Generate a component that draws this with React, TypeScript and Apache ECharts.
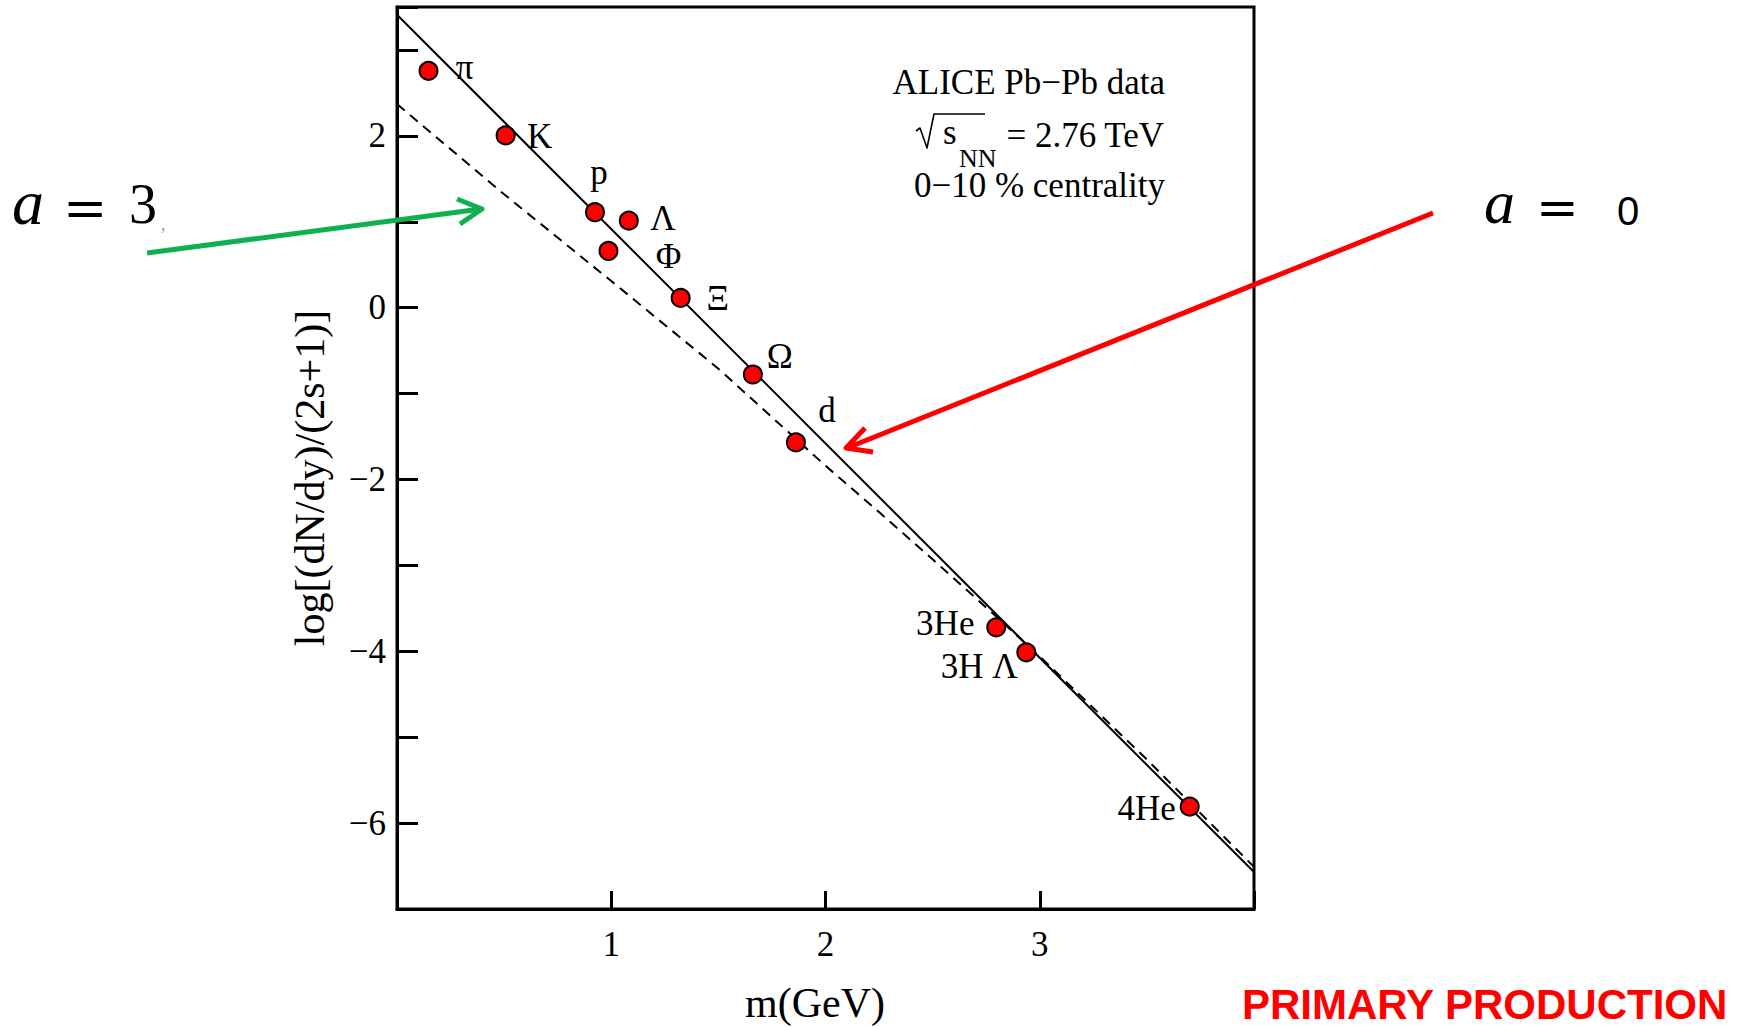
import { useEffect, useRef } from 'react';
import * as echarts from 'echarts';

// Hadron and light-nucleus yields versus mass (ALICE Pb–Pb, 0–10 %)
const particleNames = ['π', 'K', 'p', 'Λ', 'Φ', 'Ξ', 'Ω', 'd', '3He', '3H Λ', '4He'];
const particleMass = [0.147, 0.507, 0.924, 1.082, 0.987, 1.324, 1.661, 1.862, 2.797, 2.937, 3.7];
const particleYield = [2.757, 2.005, 1.111, 1.013, 0.66, 0.113, -0.778, -1.569, -3.721, -4.012, -5.809];

// label placement around each marker, in pixels
const labelOffsets = [
  [36, -3], [34, 1], [4, -40], [34, -2], [60, 6], [37, 1],
  [27, -18], [31, -32], [-51, -4], [-47, 14], [-43, 2],
];

// a = 0 fit (solid) and a = 3 curve (dashed)
const fitA0Mass = [0, 4];
const fitA0Yield = [3.41, -6.57];
const curveA3Mass = [0, 0.5, 1.0, 1.5, 2.0, 2.25, 2.5, 2.75, 3.0, 3.5, 4.0];
const curveA3Yield = [2.37, 1.32, 0.31, -0.71, -1.84, -2.38, -2.93, -3.49, -4.06, -5.26, -6.51];

// tick labels
const xTickLabels = [1, 2, 3];
const yTickLabels = [2, 0, -2, -4, -6];

const serif = '"Liberation Serif", "Times New Roman", serif';
const sans = '"Liberation Sans", Arial, sans-serif';

const fmtNum = (v: number) => (v < 0 ? '\u2212' + Math.abs(v) : String(v));

function txt(text: string, x: number, y: number, size: number, family: string, opts: any = {}) {
  const align = opts.align || 'left';
  const style: any = {
    text,
    fontSize: size,
    fontFamily: family,
    fontStyle: opts.italic ? 'italic' : 'normal',
    fontWeight: opts.bold ? 'bold' : 'normal',
    fill: opts.fill || '#000',
    align,
    verticalAlign: 'middle',
    textAlign: align,
    textVerticalAlign: 'middle',
  };
  if (opts.lineHeight) style.lineHeight = opts.lineHeight;
  return {
    type: 'text',
    x,
    y,
    rotation: opts.rotation || 0,
    z: 50,
    style,
  };
}

function poly(points: number[][], stroke: string, lineWidth: number) {
  return {
    type: 'polyline',
    z: 50,
    shape: { points },
    style: { stroke, lineWidth, fill: 'none', lineJoin: 'round', lineCap: 'butt' },
  };
}

export default function App() {
  const ref = useRef<HTMLDivElement>(null);

  useEffect(() => {
    if (!ref.current) return;
    const chart = echarts.init(ref.current, undefined, { renderer: 'svg' });

    const green = '#10b050';
    const red = '#ff0000';

    const option: any = {
      animation: false,
      backgroundColor: '#ffffff',
      grid: {
        left: 397,
        top: 7,
        width: 857,
        height: 902,
        show: true,
        borderColor: '#000',
        borderWidth: 3,
        backgroundColor: 'transparent',
      },
      xAxis: {
        type: 'value',
        min: 0,
        max: 4,
        interval: 1,
        axisLine: { show: true, onZero: false, lineStyle: { color: '#000', width: 3 } },
        axisTick: { show: true, inside: true, length: 18, lineStyle: { color: '#000', width: 3 } },
        axisLabel: {
          margin: 18,
          color: '#000',
          fontFamily: serif,
          fontSize: 35,
          formatter: (v: number) => (xTickLabels.includes(v) ? fmtNum(v) : ''),
        },
        splitLine: { show: false },
      },
      yAxis: {
        type: 'value',
        min: -7,
        max: 3.5,
        interval: 1,
        axisLine: { show: true, onZero: false, lineStyle: { color: '#000', width: 3 } },
        axisTick: { show: true, inside: true, length: 21, lineStyle: { color: '#000', width: 3 } },
        axisLabel: {
          margin: 11,
          color: '#000',
          fontFamily: serif,
          fontSize: 35,
          formatter: (v: number) => (yTickLabels.includes(v) ? fmtNum(v) : ''),
        },
        splitLine: { show: false },
      },
      series: [
        {
          type: 'line',
          data: fitA0Mass.map((m, i) => [m, fitA0Yield[i]]),
          symbol: 'none',
          lineStyle: { color: '#000', width: 2 },
          z: 2,
        },
        {
          type: 'line',
          data: curveA3Mass.map((m, i) => [m, curveA3Yield[i]]),
          symbol: 'none',
          lineStyle: { color: '#000', width: 2, type: [10, 7] },
          z: 2,
        },
        {
          type: 'scatter',
          data: particleMass.map((m, i) => ({
            value: [m, particleYield[i]],
            label: { offset: labelOffsets[i] },
          })),
          symbolSize: 18,
          itemStyle: { color: '#ff0000', borderColor: '#000', borderWidth: 2, opacity: 1 },
          label: {
            show: true,
            position: 'inside',
            formatter: (p: any) => particleNames[p.dataIndex],
            color: '#000',
            fontFamily: serif,
            fontSize: 35,
            align: 'center',
            verticalAlign: 'middle',
          },
          z: 3,
        },
      ],
      graphic: [
        // axis titles
        txt('log[(dN/dy)/(2s+1)]', 310, 478, 42, serif, { align: 'center', rotation: Math.PI / 2 }),
        txt('m(GeV)', 815, 1003, 42, serif, { align: 'center' }),

        // data set description
        txt('ALICE Pb\u2212Pb data', 1165, 82, 35, serif, { align: 'right' }),
        poly([[916, 131], [920, 128], [927, 148], [934, 114], [985, 114]], '#000', 1.6),
        txt('s', 943, 132, 35, serif, { lineHeight: 26 }),
        txt('NN', 959, 158, 26, serif, { lineHeight: 20 }),
        txt('= 2.76 TeV', 1164, 135, 35, serif, { align: 'right', lineHeight: 30 }),
        txt('0\u221210 % centrality', 1165, 185, 35, serif, { align: 'right' }),

        // a = 3 annotation and arrow
        txt('a', 12, 202, 64, serif, { italic: true }),
        txt('=', 63, 207, 53, '"DejaVu Serif", serif'),
        txt('3', 129, 204, 56, serif),
        txt(',', 161, 224, 18, serif, { fill: '#999' }),
        poly([[147, 253], [481, 209]], green, 5),
        poly([[457, 199], [482, 209], [460, 224]], green, 5),

        // a = 0 annotation and arrow
        txt('a', 1484, 202, 62, serif, { italic: true }),
        txt('=', 1536, 207, 51, '"DejaVu Serif", serif'),
        txt('0', 1617, 211, 40, sans),
        poly([[1433, 213], [847, 448]], red, 5),
        poly([[865, 428], [846, 448], [873, 452]], red, 5),

        // footer
        txt('PRIMARY PRODUCTION', 1242, 1004, 42, sans, { bold: true, fill: red }),
      ],
    };

    chart.setOption(option);
    return () => chart.dispose();
  }, []);

  return (
    <div
      ref={ref}
      style={{ position: 'absolute', left: 0, top: 0, width: 1747, height: 1027, background: '#fff' }}
    />
  );
}
